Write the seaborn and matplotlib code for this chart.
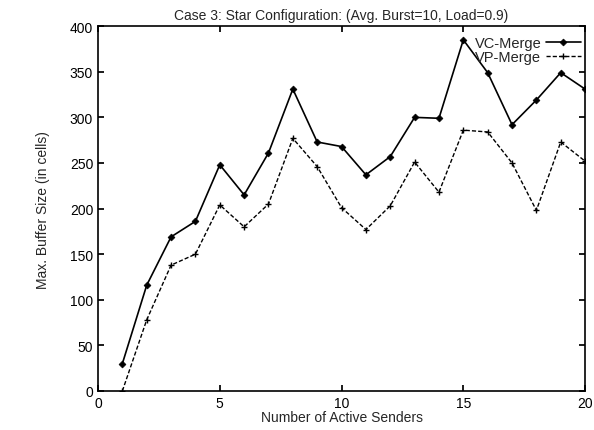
import matplotlib
matplotlib.use("Agg")
import matplotlib.pyplot as plt
import seaborn as sns
import pandas as pd

senders = list(range(1, 21))
vc_merge = [30, 116, 169, 186, 248, 215, 261, 331, 273, 268, 237, 257, 300, 299, 385, 349, 292, 319, 349, 331]
vp_merge = [0, 78, 138, 150, 204, 180, 205, 277, 246, 201, 177, 203, 251, 218, 286, 284, 250, 198, 273, 252]
x_ticks = [0, 5, 10, 15, 20]
y_ticks = [0, 50, 100, 150, 200, 250, 300, 350, 400]

sns.set_theme(style="ticks")
plt.rcParams['font.family'] = ['Liberation Sans', 'DejaVu Sans']

df = pd.DataFrame({"Senders": senders * 2,
                   "Buffer": vc_merge + vp_merge,
                   "Scheme": ["VC-Merge"] * 20 + ["VP-Merge"] * 20})

fig = plt.figure(figsize=(5.94, 4.31), dpi=100)
ax = fig.add_axes([0.165, 0.0905, 0.82, 0.8465])

sub = df[df.Scheme == "VC-Merge"]
sns.lineplot(data=sub, x="Senders", y="Buffer", ax=ax, color="black", lw=1.2,
             marker="D", markersize=3.5, markeredgewidth=0.5, markeredgecolor="black",
             label="VC-Merge")
sub = df[df.Scheme == "VP-Merge"]
sns.lineplot(data=sub, x="Senders", y="Buffer", ax=ax, color="black", lw=1.0,
             linestyle=(0, (3, 1.5)), marker="+", markersize=5, markeredgewidth=1.0,
             markeredgecolor="black", label="VP-Merge")

ax.set_xlim(0, 20)
ax.set_ylim(0, 400)
ax.set_xticks(x_ticks)
ax.set_yticks(y_ticks)
ax.tick_params(direction="in", top=True, right=True, length=4, labelsize=10, colors="black")
for s in ax.spines.values():
    s.set_linewidth(1.2)
    s.set_color("black")
ax.set_xlabel("Number of Active Senders", fontsize=10, labelpad=0)
ax.set_ylabel("Max. Buffer Size (in cells)", fontsize=10, labelpad=14)
ax.set_title("Case 3: Star Configuration: (Avg. Burst=10, Load=0.9)", fontsize=10, pad=5)
leg = ax.legend(loc="upper right", bbox_to_anchor=(1.0, 0.985), markerfirst=False,
                frameon=False, fontsize=10.5, handlelength=2.4, borderaxespad=0.1,
                borderpad=0.2, labelspacing=0.0, handletextpad=0.3)

fig.savefig("out.png", dpi=100)
